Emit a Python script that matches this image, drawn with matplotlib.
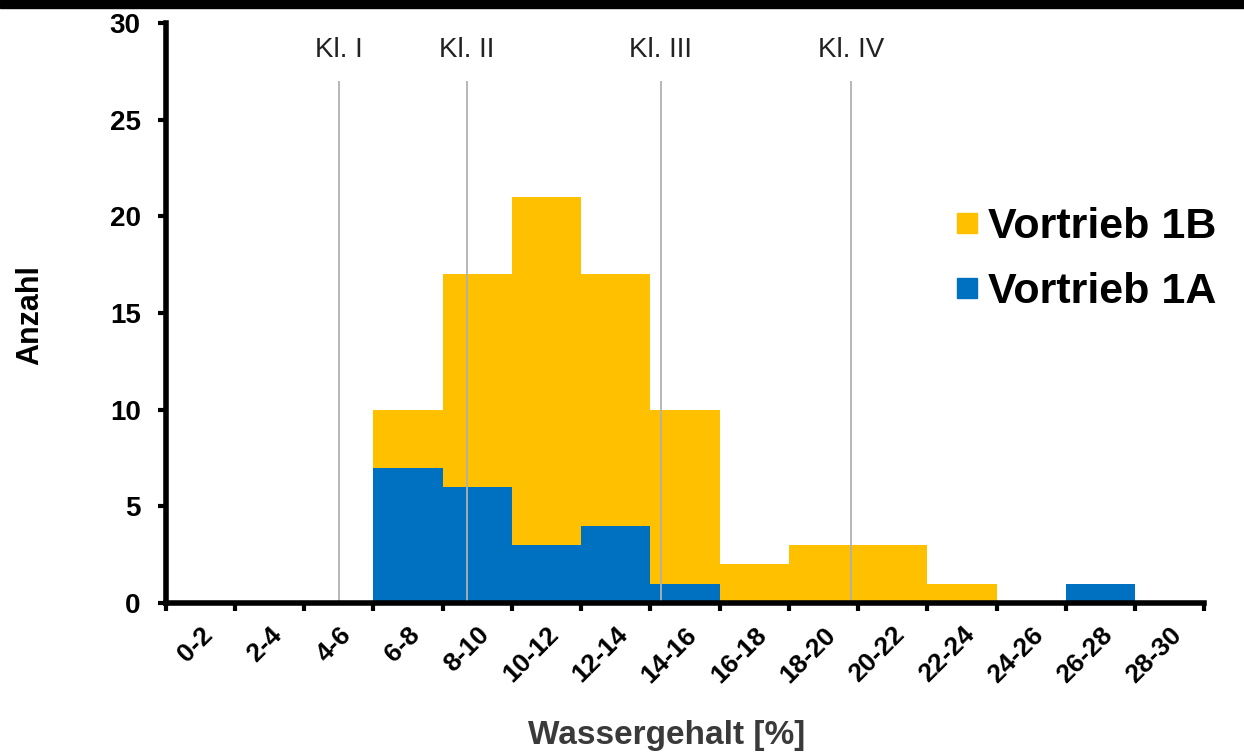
import matplotlib
matplotlib.use('Agg')

import numpy as np
import matplotlib.pyplot as plt
from matplotlib.lines import Line2D
from matplotlib.patches import Rectangle

# Data: counts per water-content class (stacked: 1A at bottom, 1B on top)
classes = ['0-2', '2-4', '4-6', '6-8', '8-10', '10-12', '12-14', '14-16',
           '16-18', '18-20', '20-22', '22-24', '24-26', '26-28', '28-30']
vortrieb_1a = [0, 0, 0, 7, 6, 3, 4, 1, 0, 0, 0, 0, 0, 1, 0]
vortrieb_1b = [0, 0, 0, 3, 11, 18, 13, 9, 2, 3, 3, 1, 0, 0, 0]

# Consistency class limits (water content in %)
class_names = ['Kl. I', 'Kl. II', 'Kl. III', 'Kl. IV']
class_limits = [5.0, 8.7, 14.3, 19.8]

plt.rcParams['font.family'] = ['Liberation Sans', 'DejaVu Sans']

fig = plt.figure(figsize=(12.44, 7.53), dpi=100)
ax = fig.add_axes([0.1333, 0.1992, 0.8347, 0.7703])

x = np.arange(len(classes))
ax.bar(x, vortrieb_1a, width=1.0, color='#0070C0', zorder=2)
ax.bar(x, vortrieb_1b, width=1.0, bottom=vortrieb_1a, color='#FFC000', zorder=2)

# class limit lines (percent -> category axis position)
for name, pct in zip(class_names, class_limits):
    pos = pct / 2.0 - 0.5
    ax.vlines(pos, 0, 27, color='#b0b0b0', lw=1.3, zorder=3)
    ax.text(pos, 28.6, name, ha='center', va='center', fontsize=20, color='#222222')

ax.set_xlim(-0.5, len(classes) - 0.5)
ax.set_ylim(0, 30)
ax.set_yticks([0, 5, 10, 15, 20, 25, 30])
ax.tick_params(axis='y', labelsize=20, width=3, length=6, direction='out', pad=12)
for lab in ax.get_yticklabels():
    lab.set_fontweight('bold')

ax.set_xticks(x)
ax.set_xticklabels(classes, rotation=45, ha='right', rotation_mode='anchor',
                   fontsize=19, fontweight='bold')
ax.tick_params(axis='x', which='major', length=0, pad=14)
ax.set_xticks(np.arange(-0.5, len(classes)), minor=True)
ax.tick_params(axis='x', which='minor', width=3, length=6, direction='out')

for s in ['top', 'right']:
    ax.spines[s].set_visible(False)
for s in ['left', 'bottom']:
    ax.spines[s].set_linewidth(4)
    ax.spines[s].set_zorder(4)

ax.set_ylabel('Anzahl', fontsize=22, fontweight='bold', va='center')
ax.yaxis.set_label_coords(-0.131, 0.497)
ax.set_xlabel('Wassergehalt [%]', fontsize=24, fontweight='bold', color='#3a3a3a',
              va='center')
ax.xaxis.set_label_coords(0.482, -0.228)

handles = [Line2D([], [], ls='none', marker='s', markersize=14, color='#FFC000'),
           Line2D([], [], ls='none', marker='s', markersize=14, color='#0070C0')]
ax.legend(handles, ['Vortrieb 1B', 'Vortrieb 1A'], loc='center left',
          bbox_to_anchor=(0.757, 0.592), frameon=False, handletextpad=0.15,
          labelspacing=0.58, borderaxespad=0, borderpad=0, handlelength=0.7,
          prop={'size': 31, 'weight': 'bold'})

# dark band at top edge of the original image
fig.add_artist(Rectangle((0, 1 - 8 / 753), 1, 8 / 753, transform=fig.transFigure,
                         color='black'))

plt.savefig('out.png', dpi=100)
plt.close()
